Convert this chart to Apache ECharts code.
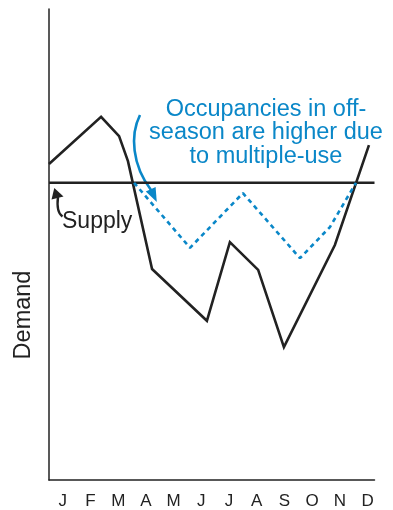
<!DOCTYPE html>
<html>
<head>
<meta charset="utf-8">
<script src="https://cdn.jsdelivr.net/npm/echarts@6/dist/echarts.min.js"></script>
<style>
html,body{margin:0;padding:0;background:#fff;}
#chart{width:393px;height:510px;}
</style>
</head>
<body>
<div id="chart"></div>
<script>
// Month tick labels (placed at month centres 0.5, 1.5, ...)
const months = ['J','F','M','A','M','J','J','A','S','O','N','D'];

// Demand curve (x in months from start of January, y in demand units 0-100)
const demandX = [0, 1.88, 2.53, 2.85, 3.72, 5.70, 6.53, 7.55, 8.48, 10.32, 11.55];
const demandY = [67.1, 77.1, 73.0, 67.7, 44.8, 33.8, 50.5, 44.6, 28.2, 49.9, 71.1];

// Supply (constant capacity)
const supplyX = [0, 11.75];
const supplyY = [63.1, 63.1];

// Off-season occupancy with multiple-use
const offX = [3.07, 5.09, 7.00, 9.06, 10.14, 11.08];
const offY = [63.1, 49.3, 60.9, 47.1, 53.7, 63.1];

const INK = '#222222';
const BLUE = '#0a87c8';
const FONT = "'Liberation Sans', Arial, Helvetica, sans-serif";

const zip = (xs, ys) => xs.map((x, i) => [x, ys[i]]);

const chart = echarts.init(document.getElementById('chart'), null, {renderer: 'canvas'});

chart.setOption({
  animation: false,
  backgroundColor: '#fff',
  grid: {left: 49, right: 18.5, top: 9, bottom: 30, containLabel: false, outerBoundsMode: 'none'},
  xAxis: {
    type: 'value', min: 0, max: 11.75, interval: 0.5,
    axisLine: {show: true, onZero: false, lineStyle: {color: INK, width: 1.5}},
    axisTick: {show: false},
    splitLine: {show: false},
    axisLabel: {
      margin: 13, color: INK, fontSize: 17, fontFamily: FONT,
      formatter: v => {
        const k = Math.round(v * 2);
        return (k % 2 === 1 && Math.abs(v * 2 - k) < 1e-6) ? months[(k - 1) / 2] : '';
      }
    }
  },
  yAxis: {
    type: 'value', min: 0, max: 100,
    axisLine: {show: true, onZero: false, lineStyle: {color: INK, width: 1.5}},
    axisTick: {show: false},
    axisLabel: {show: false},
    splitLine: {show: false}
  },
  series: [
    {
      name: 'Supply', type: 'line', data: zip(supplyX, supplyY),
      showSymbol: false, symbol: 'none',
      lineStyle: {color: INK, width: 2.6}
    },
    {
      name: 'Demand', type: 'line', data: zip(demandX, demandY),
      showSymbol: false, symbol: 'none',
      lineStyle: {color: INK, width: 2.6, join: 'miter'}
    },
    {
      name: 'Off-season', type: 'line', data: zip(offX, offY),
      showSymbol: false, symbol: 'none',
      lineStyle: {color: BLUE, width: 2.6, type: [4.5, 4]}
    }
  ],
  graphic: [
    {
      type: 'text', left: null, x: 24, y: 315, rotation: Math.PI / 2,
      style: {text: 'Demand', fill: INK, font: '23.5px ' + FONT, align: 'center', verticalAlign: 'middle'}
    },
    {
      type: 'text', x: 62, y: 222,
      style: {text: 'Supply', fill: INK, font: '23px ' + FONT, align: 'left', verticalAlign: 'middle'}
    },
    {
      type: 'text', x: 266, y: 133,
      style: {
        text: 'Occupancies in off-\nseason are higher due\nto multiple-use',
        fill: BLUE, font: '23.5px ' + FONT, lineHeight: 23.5,
        align: 'center', verticalAlign: 'middle'
      }
    },
    // black arrow to supply line
    {
      type: 'bezierCurve',
      shape: {x1: 62.5, y1: 216.5, cpx1: 57, cpy1: 213, cpx2: 57, cpy2: 205, x2: 58, y2: 197},
      style: {stroke: INK, lineWidth: 2.4, fill: null}
    },
    {
      type: 'polygon',
      shape: {points: [[54.3, 188], [51.5, 199.5], [63.5, 196.5]]},
      style: {fill: INK}
    },
    // blue arrow
    {
      type: 'bezierCurve',
      shape: {x1: 140, y1: 115, cpx1: 130, cpy1: 135, cpx2: 132, cpy2: 165, x2: 151, y2: 190},
      style: {stroke: BLUE, lineWidth: 2.6, fill: null}
    },
    {
      type: 'polygon',
      shape: {points: [[156.8, 202], [145.8, 191.6], [155.6, 187]]},
      style: {fill: BLUE}
    }
  ]
});
</script>
</body>
</html>
